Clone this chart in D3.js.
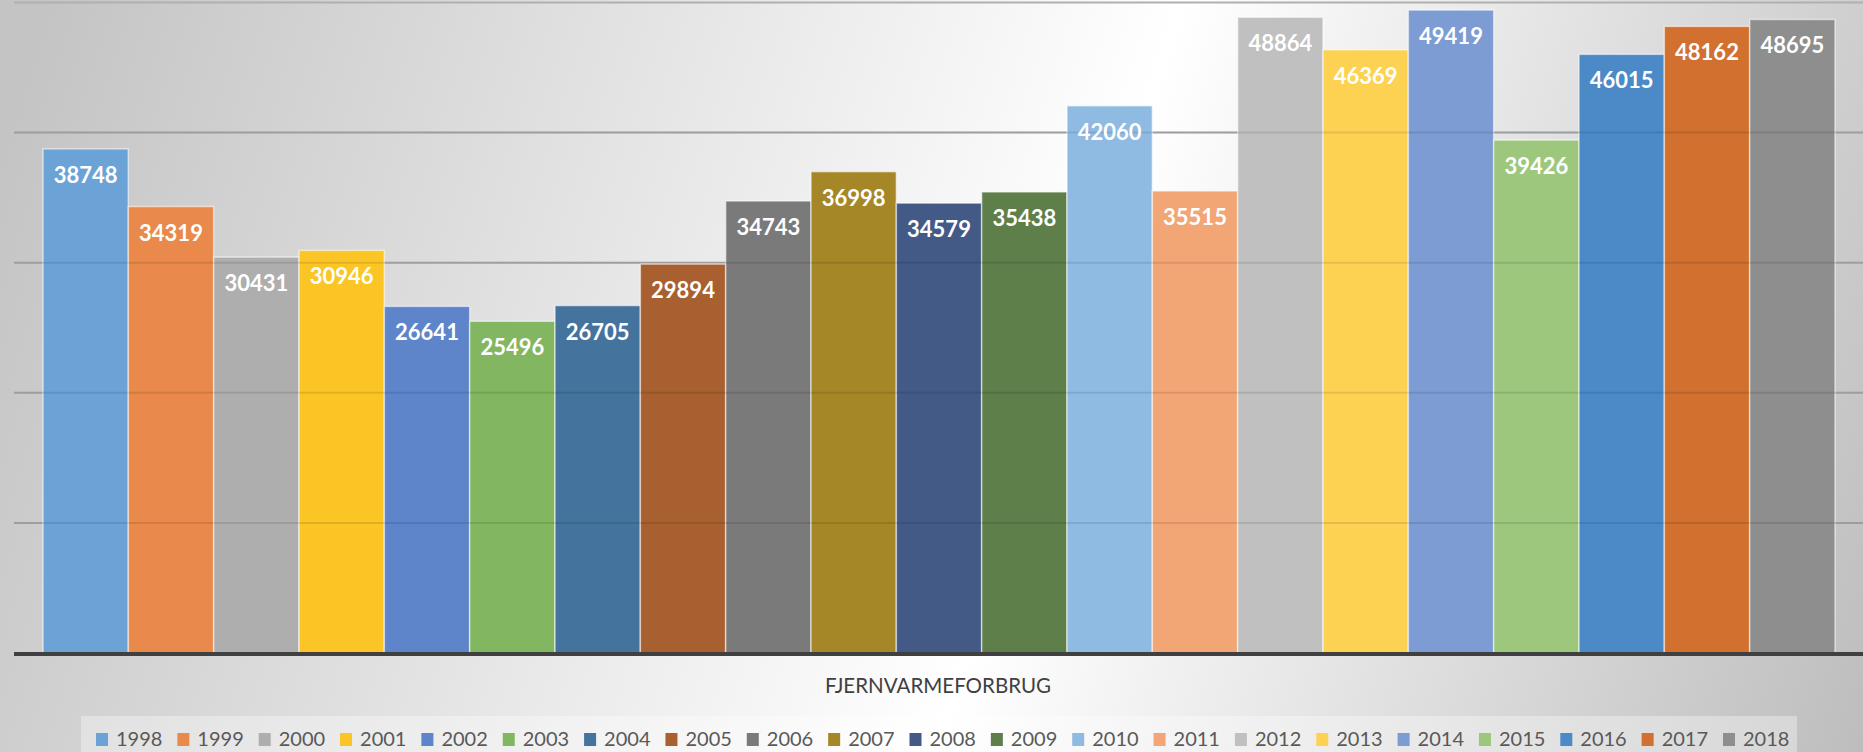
<!DOCTYPE html>
<html>
<head>
<meta charset="utf-8">
<script src="https://cdn.jsdelivr.net/npm/d3@7"></script>
<style>
  html, body { margin: 0; padding: 0; overflow: hidden; }
  svg { display: block; font-family: Lato, "Open Sans", sans-serif; }
</style>
</head>
<body>
<div id="chart"></div>
<script>
// data
const years = ["1998","1999","2000","2001","2002","2003","2004","2005","2006","2007","2008",
               "2009","2010","2011","2012","2013","2014","2015","2016","2017","2018"]
const values = [38748, 34319, 30431, 30946, 26641, 25496, 26705, 29894, 34743, 36998, 34579,
                35438, 42060, 35515, 48864, 46369, 49419, 39426, 46015, 48162, 48695]
const colors = ["#6ca3d6","#e9894b","#aeaeae","#fbc526","#5e84c9","#82b661","#44739e",
                "#a86031","#7a7a7a","#a58728","#435a87","#5e7e4a","#8fbbe3","#f2a675",
                "#c0c0c0","#fdd253","#7d9cd3","#9cc77d","#4b8ac7","#d1702f","#8e8e8e"]
const yTicks = [10000, 20000, 30000, 40000, 50000]
const axisTitle = "FJERNVARMEFORBRUG"

const WIDTH = 1863, HEIGHT = 752
const data = years.map((y, i) => ({ year: y, total: values[i], color: colors[i] }))

const svg = d3.select("#chart").append("svg")
    .attr("width", WIDTH)
    .attr("height", HEIGHT)

// background gradient
const defs = svg.append("defs")
const bg = defs.append("linearGradient")
    .attr("id", "bg")
    .attr("gradientUnits", "userSpaceOnUse")
    .attr("x1", 0).attr("y1", 150)
    .attr("x2", 1863).attr("y2", 760)
bg.append("stop").attr("offset", "0%").attr("stop-color", "#c4c4c4")
bg.append("stop").attr("offset", "55%").attr("stop-color", "#ffffff")
bg.append("stop").attr("offset", "100%").attr("stop-color", "#bdbdbd")

svg.append("rect")
    .attr("width", WIDTH)
    .attr("height", HEIGHT)
    .attr("fill", "url(#bg)")

//scales
const x = d3.scaleBand()
    .domain(years)
    .range([43, 1835])
    .padding(0)

const y = d3.scaleLinear()
    .domain([0, 50000])
    .range([653, 2.5])

// gridlines
svg.append("g")
    .selectAll("line")
    .data(yTicks)
    .enter().append("line")
    .attr("x1", 14).attr("x2", WIDTH)
    .attr("y1", d => y(d)).attr("y2", d => y(d))
    .attr("stroke", "#b0b0b0")
    .attr("stroke-width", 2)

// bars
svg.append("g")
    .selectAll("rect")
    .data(data)
    .enter().append("rect")
    .attr("x", d => x(d.year))
    .attr("y", d => y(d.total))
    .attr("width", x.bandwidth())
    .attr("height", d => y(0) - y(d.total))
    .attr("fill", d => d.color)
    .attr("stroke", "rgba(255,255,255,0.55)")
    .attr("stroke-width", 1.5)

// gridlines showing faintly through the bars
svg.append("g")
    .selectAll("line")
    .data(yTicks.filter(d => d < 50000))
    .enter().append("line")
    .attr("x1", 14).attr("x2", WIDTH)
    .attr("y1", d => y(d)).attr("y2", d => y(d))
    .attr("stroke", "rgba(0,0,0,0.1)")
    .attr("stroke-width", 2)

// labels
svg.append("g")
    .selectAll("text")
    .data(data)
    .enter().append("text")
    .attr("x", d => x(d.year) + x.bandwidth() / 2)
    .attr("y", d => y(d.total) + 34)
    .attr("text-anchor", "middle")
    .attr("fill", "white")
    .attr("font-weight", "bold")
    .attr("font-size", 22)
    .text(d => d.total)

// baseline
svg.append("line")
    .attr("x1", 14).attr("x2", WIDTH)
    .attr("y1", y(0) + 1).attr("y2", y(0) + 1)
    .attr("stroke", "#404040")
    .attr("stroke-width", 4)

// axis title
svg.append("text")
    .attr("x", 938)
    .attr("y", 693)
    .attr("text-anchor", "middle")
    .attr("fill", "#404040")
    .attr("font-size", 22)
    .attr("textLength", 226)
    .attr("lengthAdjust", "spacingAndGlyphs")
    .text(axisTitle)

// legend
svg.append("rect")
    .attr("x", 81).attr("y", 716)
    .attr("width", 1716).attr("height", 36)
    .attr("fill", "rgba(255,255,255,0.35)")

const legend = svg.append("g")
    .selectAll("g")
    .data(data)
    .enter().append("g")
    .attr("transform", (d, i) => `translate(${96 + i * 81.35}, 733)`)

legend.append("rect")
    .attr("width", 12)
    .attr("height", 13)
    .attr("fill", d => d.color)

legend.append("text")
    .attr("x", 20)
    .attr("y", 13)
    .attr("fill", "#595959")
    .attr("font-size", 20)
    .text(d => d.year)
</script>
</body>
</html>
